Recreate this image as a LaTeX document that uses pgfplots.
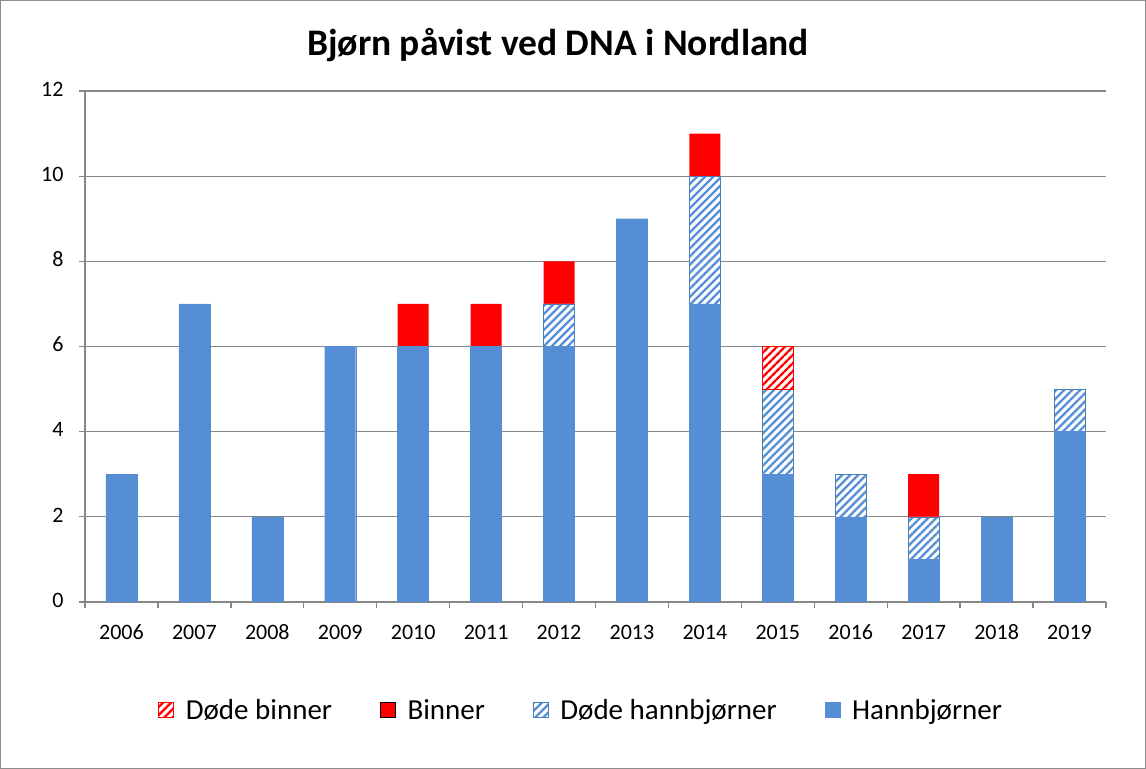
\documentclass[border=0pt]{standalone}
\usepackage{pgfplots}
\pgfplotsset{compat=1.18}
\usetikzlibrary{patterns.meta}
\usepackage{fontspec}
\setmainfont{Carlito}
\definecolor{hblue}{HTML}{558ED5}
\definecolor{hblueline}{HTML}{4A7EBB}
\definecolor{gridgray}{HTML}{878787}
\definecolor{framegray}{HTML}{8C8C8C}
\pgfplotsset{
  hatchblue/.style={fill=white, draw=hblueline,
    postaction={pattern={Lines[angle=45,distance=5.7bp,line width=2.3bp]}, pattern color=hblue}},
  hatchred/.style={fill=white, draw=red,
    postaction={pattern={Lines[angle=45,distance=5.7bp,line width=2.3bp]}, pattern color=red}},
  common/.style={at={(85bp,167bp)}, anchor=south west,
    scale only axis, width=1021bp, height=511bp,
    ybar stacked, bar width=31bp,
    xmin=-0.5, xmax=13.5, ymin=0, ymax=12},
}
\begin{document}
\begin{tikzpicture}
\draw[framegray, line width=1bp] (0.5bp,0.5bp) rectangle (1145.5bp,768.5bp);
\node[font=\bfseries\fontsize{37.5bp}{44bp}\selectfont] at (558bp,724bp) {Bjørn påvist ved DNA i Nordland};
\begin{axis}[
  common,
  xtick={0,...,13},
  xticklabels={2006,2007,2008,2009,2010,2011,2012,2013,2014,2015,2016,2017,2018,2019},
  minor xtick={-0.5,0.5,...,13.5},
  major x tick style={draw=none},
  ytick={0,2,...,12},
  axis lines*=left,
  axis line style={gridgray, line width=1.3bp},
  tick style={gridgray, line width=1.3bp},
  tick align=outside,
  major tick length=6bp, minor tick length=6bp,
  ymajorgrids, grid style={gridgray, line width=1.3bp},
  ticklabel style={font=\fontsize{22bp}{26bp}\selectfont},
  typeset ticklabels with strut,
  xticklabel style={yshift=-10bp},
  yticklabel style={xshift=-12bp},
  /pgf/number format/assume math mode=true,
  legend style={at={(0.486,-0.211)}, anchor=center, legend columns=-1, draw=none,
    font=\fontsize{29bp}{34bp}\selectfont,
    /tikz/every odd column/.append style={column sep=10bp},
    /tikz/every even column/.append style={column sep=46bp}},
  legend image code/.code={\draw[#1] (0bp,-7.5bp) rectangle (15bp,7.5bp);},
  reverse legend,
]
\addplot[fill=hblue, draw=hblue] coordinates {
(0,3) (1,7) (2,2) (3,6) (4,6) (5,6) (6,6) (7,9) (8,7) (9,3) (10,2) (11,1) (12,2) (13,4)};
\addlegendentry{Hannbjørner}
\addplot[hatchblue] coordinates {
(0,0) (1,0) (2,0) (3,0) (4,0) (5,0) (6,1) (7,0) (8,3) (9,2) (10,1) (11,1) (12,0) (13,1)};
\addlegendentry{Døde hannbjørner}
\addplot[fill=red, draw=none] coordinates {
(0,0) (1,0) (2,0) (3,0) (4,1) (5,1) (6,1) (7,0) (8,1) (9,0) (10,0) (11,1) (12,0) (13,0)};
\addlegendentry{Binner}
\addlegendimage{hatchred}
\addlegendentry{Døde binner}
\end{axis}
% Døde binner (only 2015), stacked on Hannbjørner + Døde hannbjørner (3+2)
\begin{axis}[common, hide axis]
\addplot[draw=none, fill=none] coordinates {(9,5)};
\addplot[hatchred] coordinates {(9,1)};
\end{axis}
\end{tikzpicture}
\end{document}
